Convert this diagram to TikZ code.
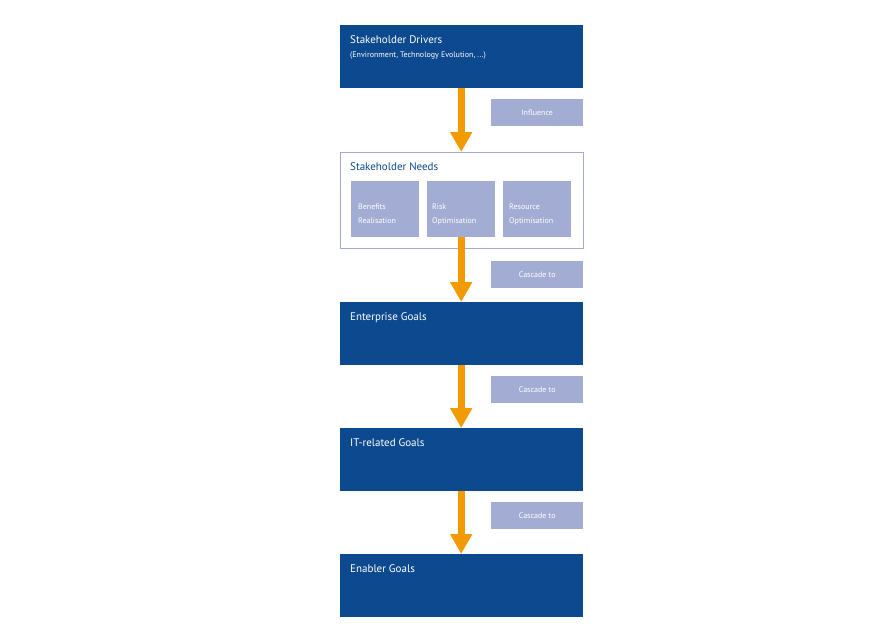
\documentclass[tikz,border=0pt]{standalone}
\usepackage{fontspec}
\setmainfont{PT Sans}
\usetikzlibrary{positioning, arrows.meta}
\definecolor{goalblue}{RGB}{12,73,143}
\definecolor{tagblue}{RGB}{163,173,212}
\definecolor{flow}{RGB}{242,155,0}
\begin{document}
\begin{tikzpicture}[x=1pt,y=-1pt,
	goal/.style={fill=goalblue, minimum width=243pt, minimum height=63pt, inner sep=0, anchor=north west},
	needs/.style={draw=tagblue, line width=1pt, fill=white, minimum width=243pt, minimum height=96pt, inner sep=0, anchor=north west},
	need/.style={fill=tagblue, minimum width=68pt, minimum height=56pt, inner sep=0, anchor=north west},
	tag/.style={fill=tagblue, text=white, font=\fontsize{8}{9}\selectfont, minimum width=92pt, minimum height=27pt, inner sep=0, anchor=north west},
	title/.style={anchor=north west, inner sep=0, font=\fontsize{11}{13}\selectfont, text=white},
	sub/.style={anchor=north west, inner sep=0, align=left, font=\fontsize{8}{14}\selectfont, text=white},
	cascade/.style={draw=flow, line width=7pt, -{Triangle[width=21pt,length=20pt]}}]

	\useasboundingbox (0,0) rectangle (880,635);

	% Goal boxes
	\node[goal] (drivers) at (340,25) {};
	\node[needs] (needs) at (340,152) {};
	\node[goal] (enterprise) at (340,302) {};
	\node[goal] (it) at (340,428) {};
	\node[goal] (enabler) at (340,554) {};

	% Stakeholder needs
	\node[need] (benefits) at (351,181) {};
	\node[need] (risk) at (427,181) {};
	\node[need] (resource) at (503,181) {};

	% Titles
	\node[title] at (350,35) {Stakeholder Drivers};
	\node[sub, font=\fontsize{8}{9}\selectfont] at (350,52) {(Environment, Technology Evolution, ...)};
	\node[title, text=goalblue] at (350,162) {Stakeholder Needs};
	\node[title] at (350,312) {Enterprise Goals};
	\node[title] at (350,438) {IT-related Goals};
	\node[title] at (350,564) {Enabler Goals};
	\node[sub] at (358,204) {Benefits\\Realisation};
	\node[sub] at (432,204) {Risk\\Optimisation};
	\node[sub] at (509,204) {Resource\\Optimisation};

	% Tags
	\node[tag] (influence) at (491,99) {Influence};
	\node[tag] (cascade1) at (491,261) {Cascade to};
	\node[tag] (cascade2) at (491,376) {Cascade to};
	\node[tag] (cascade3) at (491,502) {Cascade to};

	% Arrows
	\draw[cascade] (drivers.south -| risk) -- (needs.north -| risk);
	\draw[cascade] (risk.south) -- (enterprise.north -| risk);
	\draw[cascade] (enterprise.south -| risk) -- (it.north -| risk);
	\draw[cascade] (it.south -| risk) -- (enabler.north -| risk);
\end{tikzpicture}
\end{document}
